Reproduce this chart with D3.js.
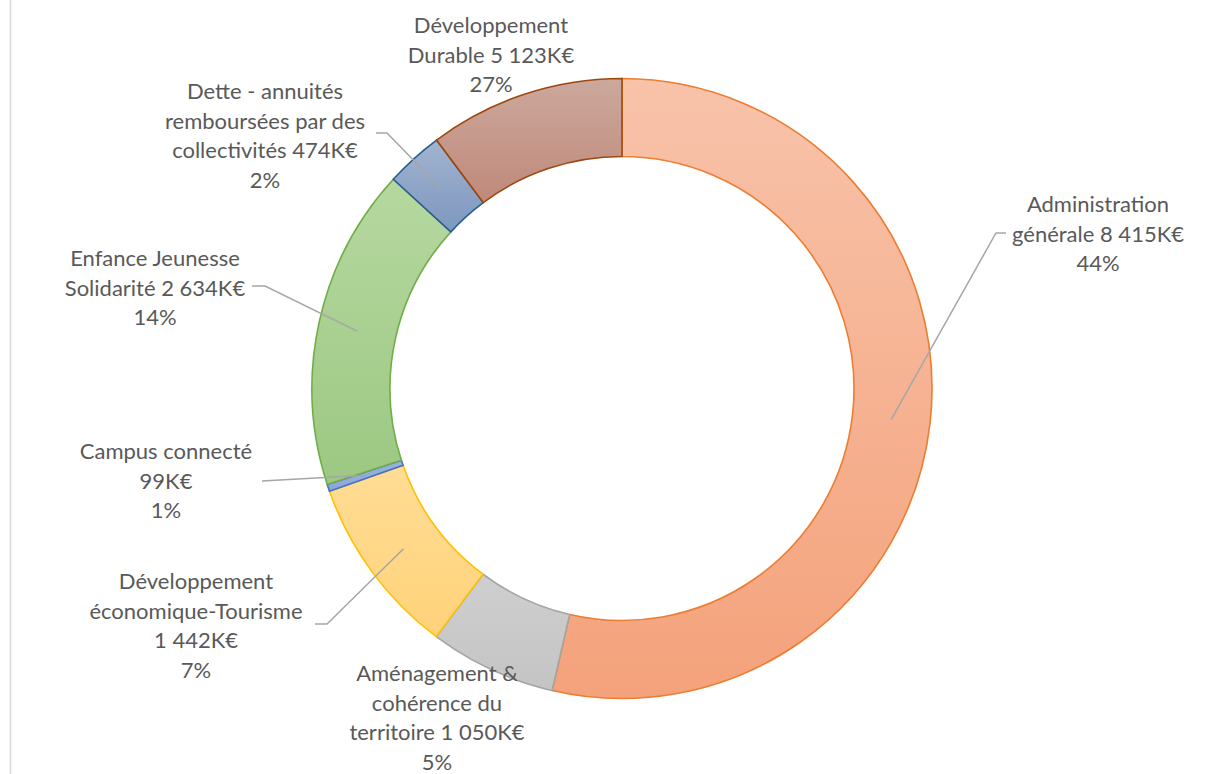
<!DOCTYPE html>
<html>
<head>
<meta charset="utf-8">
<script src="https://cdn.jsdelivr.net/npm/d3@7"></script>
<style>
  html, body { margin: 0; padding: 0; background: #fff; }
  svg { display: block; }
</style>
</head>
<body>
<svg id="chart" width="1212" height="774"></svg>
<script>
// ---- data ----
const categories = [
  "Administration générale",
  "Aménagement & cohérence du territoire",
  "Développement économique-Tourisme",
  "Campus connecté",
  "Enfance Jeunesse Solidarité",
  "Dette - annuités remboursées par des collectivités",
  "Développement Durable"
];
const amountsKEUR = [8415, 1050, 1442, 99, 2634, 474, 5123];
const percentLabels = ["44%", "5%", "7%", "1%", "14%", "2%", "27%"];
// angular share of each slice as drawn in the picture (percent of the ring)
const drawnShare = [53.6, 6.6, 9.4, 0.36, 16.8, 3.0, 10.2];
// label text lines (as wrapped in the chart)
const labelLines = [
  ["Administration", "générale 8 415K€", "44%"],
  ["Aménagement &", "cohérence du", "territoire 1 050K€", "5%"],
  ["Développement", "économique-Tourisme", "1 442K€", "7%"],
  ["Campus connecté", "99K€", "1%"],
  ["Enfance Jeunesse", "Solidarité 2 634K€", "14%"],
  ["Dette - annuités", "remboursées par des", "collectivités 474K€", "2%"],
  ["Développement", "Durable 5 123K€", "27%"]
];

// ---- styles ----
const fillTop    = ["#F8C3AA", "#CFCFCF", "#FFDD95", "#9AB2DF", "#B6D8A0", "#A2B4D0", "#CCA89D"];
const fillBottom = ["#F4A27B", "#C4C4C4", "#FFD27A", "#8AA6DA", "#9CC882", "#7D97BF", "#BF897A"];
const strokes    = ["#ED7D31", "#A5A5A5", "#FFC000", "#4472C4", "#70AD47", "#255E91", "#9E480E"];

// ---- layout ----
const W = 1212, H = 774;
const cx = 622, cy = 388.5, R = 310, r = 232;
const lineH = 29.7;
const labelPos = [
  { x: 1098, y: 204 },
  { x: 437,  y: 673 },
  { x: 196,  y: 581 },
  { x: 166,  y: 451 },
  { x: 155,  y: 258 },
  { x: 265,  y: 91 },
  { x: 491,  y: 25 }
];
// leader lines: [textSide point, knee point] (null = no leader)
const leaders = [
  [[1006, 233], [996, 233]],
  null,
  [[315, 624], [327, 624]],
  [[262, 481], null],
  [[252, 286], [265, 286]],
  [[376, 133], [387, 133]],
  null
];

const svg = d3.select("#chart");

// left border line
svg.append("line")
  .attr("x1", 10.5).attr("x2", 10.5).attr("y1", 0).attr("y2", H)
  .attr("stroke", "#D9D9D9").attr("stroke-width", 1.5);

const defs = svg.append("defs");
categories.forEach((c, i) => {
  const g = defs.append("linearGradient")
    .attr("id", "grad" + i)
    .attr("x1", 0).attr("y1", 0).attr("x2", 0).attr("y2", 1);
  g.append("stop").attr("offset", "0%").attr("stop-color", fillTop[i]);
  g.append("stop").attr("offset", "100%").attr("stop-color", fillBottom[i]);
});

const data = categories.map((c, i) => ({ i, c, v: drawnShare[i] }));

const pie = d3.pie().sort(null).value(d => d.v);
const arcs = pie(data);
const arc = d3.arc().innerRadius(r).outerRadius(R);

const g = svg.append("g").attr("transform", `translate(${cx},${cy})`);

g.selectAll("path.slice")
  .data(arcs)
  .join("path")
  .attr("class", "slice")
  .attr("d", arc)
  .attr("fill", d => `url(#grad${d.data.i})`)
  .attr("stroke", d => strokes[d.data.i])
  .attr("stroke-width", 1.6)
  .attr("stroke-linejoin", "miter");

// leader lines
arcs.forEach(a => {
  const L = leaders[a.data.i];
  if (!L) return;
  const c = arc.centroid(a);
  const end = [cx + c[0], cy + c[1]];
  const pts = [L[0]];
  if (L[1]) pts.push(L[1]);
  pts.push(end);
  svg.append("path")
    .attr("d", d3.line()(pts))
    .attr("fill", "none")
    .attr("stroke", "#A6A6A6")
    .attr("stroke-width", 1.5);
});

// labels
labelLines.forEach((lines, i) => {
  const t = svg.append("text")
    .attr("text-anchor", "middle")
    .attr("font-family", "Lato, 'Noto Sans', sans-serif")
    .attr("font-size", 22)
    .attr("fill", "#595959");
  lines.forEach((ln, k) => {
    t.append("tspan")
      .attr("x", labelPos[i].x)
      .attr("y", labelPos[i].y + k * lineH)
      .attr("dy", "0.36em")
      .text(ln);
  });
});
</script>
</body>
</html>
